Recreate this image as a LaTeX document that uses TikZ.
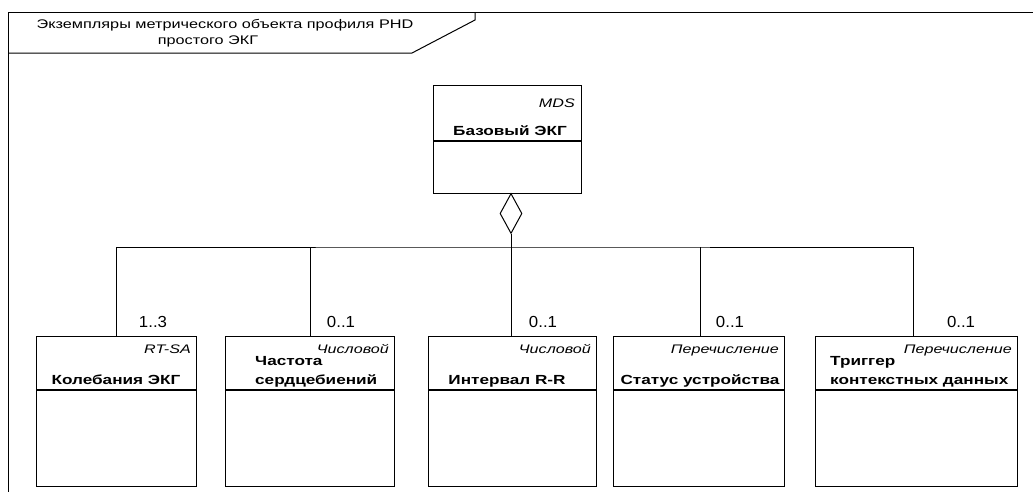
\documentclass[tikz,border=0pt]{standalone}
\usepackage{fontspec}
\setmainfont{Liberation Sans}[FakeStretch=1.3]
\newfontfamily\multfont{Liberation Sans}[FakeStretch=1.05]
\usetikzlibrary{shapes.geometric}
\tikzset{
  umlbox/.style={draw, line width=1.2pt, minimum width=#1, minimum height=150pt, anchor=north west, inner sep=0pt},
  conn/.style={line width=1pt},
  frameline/.style={line width=1pt},
  stereo/.style={font=\fontsize{12.4}{14}\selectfont\itshape, inner sep=0pt},
  cname/.style={font=\fontsize{13.2}{18}\selectfont\bfseries, inner sep=0pt},
  mult/.style={font=\multfont\fontsize{16}{18}\selectfont, inner sep=0pt},
  ttl/.style={font=\fontsize{12.5}{16}\selectfont, inner sep=0pt, align=center}
}
\begin{document}
\begin{tikzpicture}[x=1pt,y=-1pt]
\useasboundingbox (0,0) rectangle (1033,491);
% frame
\draw[frameline] (1036,12) -- (8,12) -- (8,495);
\draw[frameline] (8,53) -- (412,53) -- (475,20) -- (475,12);
\node[ttl, anchor=base] (title) at (225,28) {Экземпляры метрического объекта профиля PHD};
\node[ttl, anchor=base] (title2) at (208,44) {простого ЭКГ};
% top class
\node[draw, line width=1.2pt, minimum width=148pt, minimum height=108pt, anchor=north west, inner sep=0pt] (mds) at (433,85) {};
\draw[line width=1.2pt] (mds.west |- 0,141) -- (mds.east |- 0,141);
\node[stereo, anchor=base east] (mdsS) at (575,107) {MDS};
\node[cname, anchor=base] (mdsN) at (510,135) {Базовый ЭКГ};
\node[draw, line width=1pt, shape=diamond, minimum width=22pt, minimum height=40pt, inner sep=0pt, fill=white, anchor=north] (dia) at (511,193) {};
% bottom classes
\node[umlbox=160pt] (b1) at (36,336) {};
\node[umlbox=169pt] (b2) at (225,336) {};
\node[umlbox=168pt] (b3) at (428,336) {};
\node[umlbox=171pt] (b4) at (613,336) {};
\node[umlbox=202pt] (b5) at (815,336) {};
\foreach \b in {b1,b2,b3,b4,b5}{
  \draw[line width=1.2pt] (\b.west |- 0,390) -- (\b.east |- 0,390);
}
% connectors
\coordinate (busy) at (0,247);
\draw[conn] (dia.south) -- (dia.south |- b3.north);
\draw[conn] (b1.north) |- (dia.south |- busy) -| (b5.north -| 913,0);
\draw[conn] (b2.north) -- (b2.north |- busy);
\draw[conn] (b4.north -| 700,0) -- (700,247);
% multiplicities
\node[mult, anchor=base] (m1) at (153,327) {1..3};
\node[mult, anchor=base] (m2) at (341,327) {0..1};
\node[mult, anchor=base] (m3) at (543,327) {0..1};
\node[mult, anchor=base] (m4) at (730,327) {0..1};
\node[mult, anchor=base] (m5) at (961,327) {0..1};
% stereotypes
\node[stereo, anchor=base east] (s1) at (191,353) {RT-SA};
\node[stereo, anchor=base east] (s2) at (389,353) {Числовой};
\node[stereo, anchor=base east] (s3) at (591,353) {Числовой};
\node[stereo, anchor=base east] (s4) at (779,353) {Перечисление};
\node[stereo, anchor=base east] (s5) at (1012,353) {Перечисление};
% names
\node[cname, anchor=base] (n1) at (116,384) {Колебания ЭКГ};
\node[cname, anchor=base west] (n2a) at (255,365) {Частота};
\node[cname, anchor=base west] (n2b) at (255,384) {сердцебиений};
\node[cname, anchor=base] (n3) at (507,384) {Интервал R-R};
\node[cname, anchor=base] (n4) at (700,384) {Статус устройства};
\node[cname, anchor=base west] (n5a) at (830,365) {Триггер};
\node[cname, anchor=base west] (n5b) at (830,384) {контекстных данных};
\end{tikzpicture}
\end{document}
